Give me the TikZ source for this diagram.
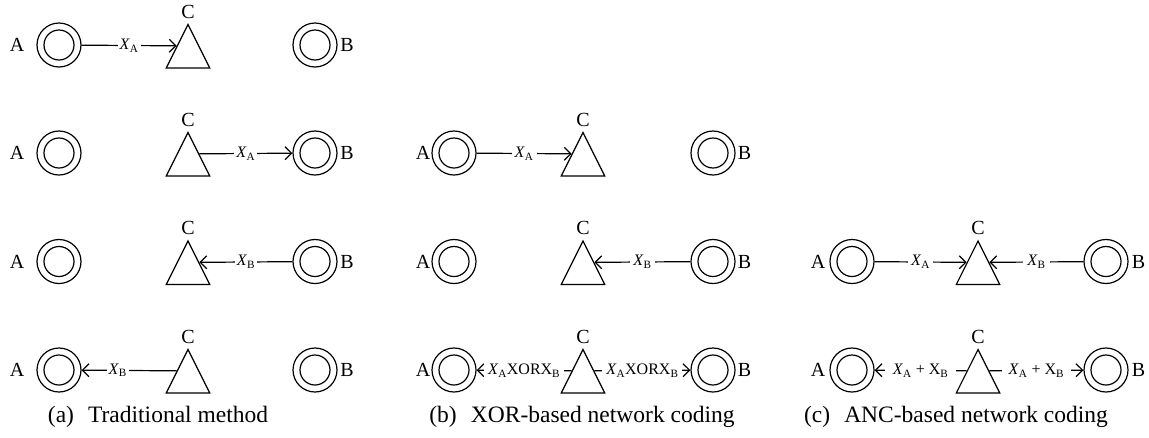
\documentclass[tikz,border=0pt]{standalone}
\usepackage{fontspec}
\setmainfont{Liberation Serif}
\usetikzlibrary{arrows.meta,shapes.geometric}
\tikzset{
  lw/.style={line width=1.2pt},
  station/.style={circle, draw, lw, minimum size=44pt, inner sep=0pt,
    path picture={\draw[lw] (path picture bounding box.center) circle[radius=15pt];}},
  relay/.style={isosceles triangle, isosceles triangle stretches, shape border rotate=90,
    draw, lw, minimum width=43.5pt, minimum height=43.5pt, inner sep=0pt, anchor=apex},
  lab/.style={inner sep=0pt, font=\fontsize{20}{20}\selectfont},
  elab/.style={fill=white, inner ysep=2pt, inner xsep=2pt, font=\fontsize{16}{16}\selectfont},
  captext/.style={inner sep=0pt, font=\fontsize{23.5}{24}\selectfont},
  arr/.style={lw, -{Straight Barb[length=6.5pt,width=13pt,line width=1.2pt]}},
}
\newcommand{\XA}{\textit{X}\textsubscript{A}}
\newcommand{\XB}{\textit{X}\textsubscript{B}}
\newcommand{\XBr}{X\textsubscript{B}}
\begin{document}
\begin{tikzpicture}[x=1pt,y=-1pt]
\useasboundingbox (0,0) rectangle (1149,437);
% ---------- panel (a) ----------
\foreach \r/\yy in {1/45,2/153,3/261.5,4/370}{
  \node[station] (aA\r) at (59,\yy) {};
  \node[station] (aB\r) at (315,\yy) {};
  \node[relay] (aC\r) at (188,\yy-22) {};
  \node[lab, anchor=east] (aAl\r) at ([xshift=-12pt]aA\r.west) {A};
  \node[lab, anchor=west] (aBl\r) at ([xshift=2.5pt]aB\r.east) {B};
  \node[lab, anchor=base] (aCl\r) at ([yshift=5pt]aC\r.apex) {C};
}
\draw[arr] (aA1) -- node[elab]{\XA} (aC1.left side);
\draw[arr] (aC2.right side) -- node[elab]{\XA} (aB2);
\draw[arr] (aB3) -- node[elab]{\XB} (aC3.right side);
\draw[arr] (aC4.left side) -- node[elab, pos=0.62]{\XB} (aA4);
% ---------- panel (b) ----------
\foreach \r/\yy in {2/153,3/261.5,4/370}{
  \node[station] (bA\r) at (454,\yy) {};
  \node[station] (bB\r) at (713,\yy) {};
  \node[relay] (bC\r) at (583,\yy-22) {};
  \node[lab, anchor=east] (bAl\r) at ([xshift=-1pt]bA\r.west) {A};
  \node[lab, anchor=west] (bBl\r) at ([xshift=2pt]bB\r.east) {B};
  \node[lab, anchor=base] (bCl\r) at ([yshift=5pt]bC\r.apex) {C};
}
\draw[arr] (bA2) -- node[elab, inner xsep=3pt]{\XA} (bC2.left side);
\draw[arr] (bB3) -- node[elab, inner xsep=3pt]{\XB} (bC3.right side);
\draw[arr] (bC4.left side) -- node[elab, inner xsep=4pt]{\XA XOR\XBr} (bA4);
\draw[arr] (bC4.right side) -- node[elab, inner xsep=4pt]{\XA XOR\XBr} (bB4);
% ---------- panel (c) ----------
\foreach \r/\yy in {3/261.5,4/370}{
  \node[station] (cA\r) at (852,\yy) {};
  \node[station] (cB\r) at (1106,\yy) {};
  \node[relay] (cC\r) at (978,\yy-22) {};
  \node[lab, anchor=east] (cAl\r) at ([xshift=-4pt]cA\r.west) {A};
  \node[lab, anchor=west] (cBl\r) at ([xshift=3pt]cB\r.east) {B};
  \node[lab, anchor=base] (cCl\r) at ([yshift=5pt]cC\r.apex) {C};
}
\draw[arr] (cA3) -- node[elab, inner xsep=3pt]{\XA} (cC3.left side);
\draw[arr] (cB3) -- node[elab, inner xsep=4pt]{\XB} (cC3.right side);
\draw[arr] (cC4.left side) -- node[elab, inner xsep=8pt]{\XA\ + \XBr} (cA4);
\draw[arr] (cC4.right side) -- node[elab, inner xsep=7pt]{\XA\ + \XBr} (cB4);
% ---------- captions ----------
\node[captext] (capa) at (158,417) {(a)\hspace{0.6em}Traditional method};
\node[captext] (capb) at (582,417) {(b)\hspace{0.6em}XOR-based network coding};
\node[captext] (capc) at (956,417) {(c)\hspace{0.6em}ANC-based network coding};
\end{tikzpicture}
\end{document}
